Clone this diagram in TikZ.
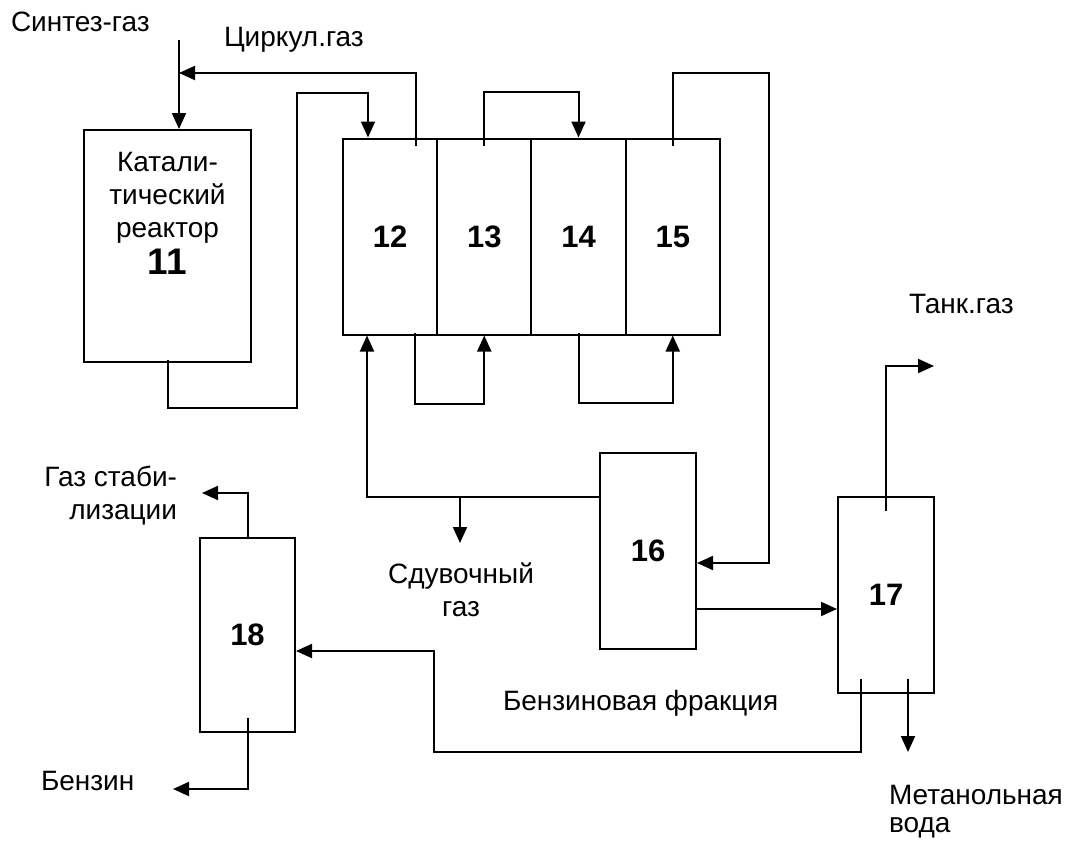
\documentclass[tikz,border=0pt]{standalone}
\usepackage{fontspec}
\setmainfont{Liberation Sans}
\usetikzlibrary{arrows.meta, positioning, calc}
\tikzset{
  every picture/.style={line width=2pt, x=1pt, y=-1pt},
  box/.style={draw, rectangle, inner sep=0pt, font=\fontsize{31}{31}\selectfont\bfseries},
  flow/.style={-{Triangle[length=16pt,width=14pt]}},
  note/.style={font=\fontsize{28}{33}\selectfont, inner sep=0pt},
}

\begin{document}
\begin{tikzpicture}
  \useasboundingbox (0,0) rectangle (1070,843);
  % apparatus
  \node[box, minimum width=167pt, minimum height=232pt] (r11) at (167.5,246) {};
  \node[note, anchor=north, align=center] (t11) at ([yshift=-22pt]r11.north) {Катали-\\тический\\реактор\\[4pt]{\fontsize{37}{37}\selectfont\bfseries 11}};
  \foreach \n [count=\i from 0] in {12,13,14,15}
    \node[box, minimum width=94.25pt, minimum height=196pt] (c\n) at ({390+\i*94.25},236.5) {\n};
  \node[box, minimum width=96pt, minimum height=196pt] (s16) at (648,551) {16};
  \node[box, minimum width=96pt, minimum height=196pt] (s17) at (886,595) {17};
  \node[box, minimum width=95pt, minimum height=194pt] (s18) at (247.5,635) {18};
  % stream labels
  \node[note, anchor=base west] (syngas) at (10,32) {Синтез-газ};
  \node[note, anchor=base west] (circ) at (223,47) {Циркул.газ};
  \node[note, anchor=base west] (tank) at (908,313) {Танк.газ};
  \node[note, anchor=north east, align=right] (stab) at (178,465) {Газ стаби-\\лизации};
  \node[note, anchor=base west] (benzin) at (40,790) {Бензин};
  \node[note, anchor=north, align=center] (sduv) at (461,562) {Сдувочный\\газ};
  \node[note, anchor=base west] (frac) at (502,710) {Бензиновая фракция};
  \node[note, anchor=north west, align=left] (meth) at (888,784) {Метанольная\\[-5pt]вода};
  % free ends
  \coordinate (syn) at (179,40);
  \coordinate (mix) at (179,73);
  \coordinate (tap) at (460,497);
  \coordinate (tankout) at (934,366);
  \coordinate (waterout) at (908,752);
  \coordinate (stabout) at (202,493);
  \coordinate (benzout) at (173,789);
  % streams
  \draw[flow] (syn) -- ([xshift=11.5pt]r11.north);
  \draw[flow] ([xshift=26pt,yshift=-8pt]c12.north) |- (mix);
  \draw[flow] ([yshift=3pt]r11.south) -- ++(0,48) -| (297,93) -| ([xshift=-22pt]c12.north);
  \draw[flow] ([yshift=-8pt]c13.north) -- ++(0,-54) -| (c14.north);
  \draw[flow] ([yshift=-8pt]c15.north) |- (769,73) |- ([yshift=-12pt]s16.east);
  \draw[flow] ([xshift=25pt,yshift=3pt]c12.south) -- ++(0,71) -| (c13.south);
  \draw[flow] ([yshift=3pt]c14.south) -- ++(0,70) -| (c15.south);
  \draw[flow] ([yshift=54pt]s16.west) -| ([xshift=-23pt]c12.south);
  \draw[flow] (tap) -- ++(0,46);
  \draw[flow] ([yshift=-58pt]s16.east) coordinate (o16) -- (o16 -| s17.west);
  \draw[flow] ([yshift=-15pt]s17.north) |- (tankout);
  \draw[flow] ([xshift=-25pt,yshift=15pt]s17.south) |- (434,752) |- ([yshift=-16pt]s18.east);
  \draw[flow] ([xshift=22pt,yshift=15pt]s17.south) -- (waterout);
  \draw[flow] ([yshift=-2pt]s18.north) |- (stabout);
  \draw[flow] ([yshift=15pt]s18.south) |- (benzout);
\end{tikzpicture}
\end{document}
